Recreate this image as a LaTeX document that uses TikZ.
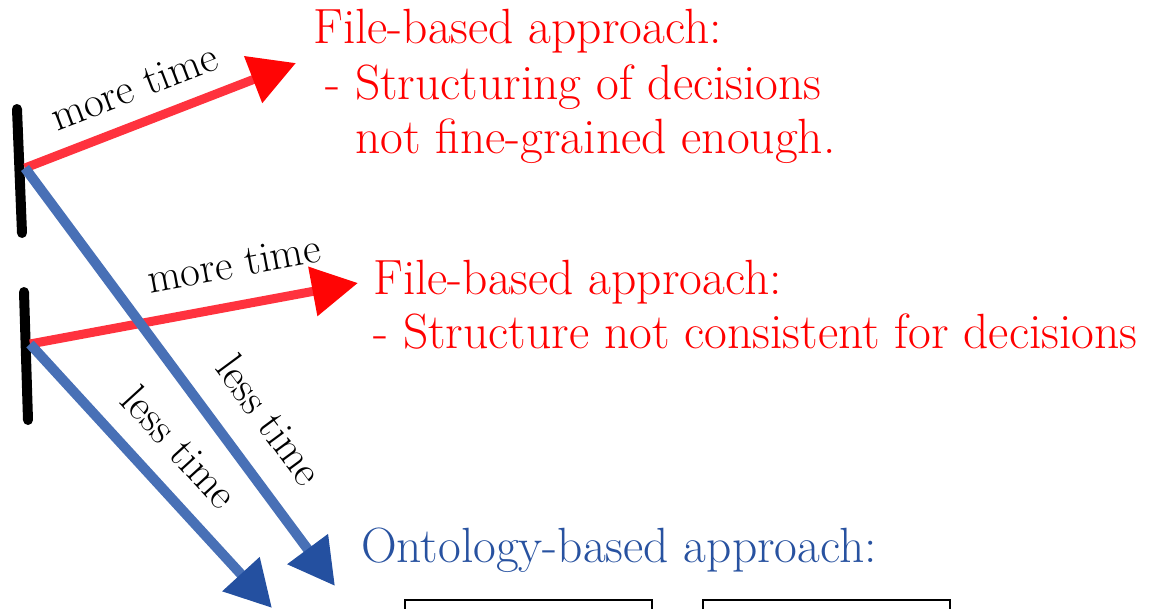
\documentclass[tikz,border=0pt]{standalone}
\usetikzlibrary{arrows.meta}
\definecolor{redA}{RGB}{255,50,62}
\definecolor{redH}{RGB}{255,5,5}
\definecolor{blueA}{RGB}{72,112,182}
\definecolor{blueH}{RGB}{36,80,160}
\definecolor{blueT}{RGB}{40,82,160}
\begin{document}
\begin{tikzpicture}[x=1pt,y=-1pt,
  redtext/.style={text=red, font=\fontsize{49.5}{58}\selectfont, inner sep=0pt, anchor=base west},
  bluetext/.style={text=blueT, font=\fontsize{49.5}{58}\selectfont, inner sep=0pt, anchor=base west},
  lbl/.style={font=\fontsize{43}{45}\selectfont, inner sep=0pt},
  bar/.style={line width=10pt, line cap=round},
  redarrow/.style={draw=redA, line width=9pt, -{Triangle[length=46pt,width=48pt,color=redH]}},
  bluearrow/.style={draw=blueA, line width=10pt, -{Triangle[length=46pt,width=48pt,color=blueH]}},
  box/.style={draw, line width=2.5pt}]
\useasboundingbox (0,0) rectangle (1156,608);
% bars
\draw[bar] (17,109) coordinate (b1t) -- (22,233) coordinate (b1b);
\draw[bar] (24,292) coordinate (b2t) -- (28,420) coordinate (b2b);
\coordinate (s1) at (25,168);
\coordinate (s2) at (30,344);
\coordinate (e1) at (296,63);
\coordinate (e2) at (358,283);
\coordinate (e3) at (335,586);
\coordinate (e4) at (272,608);
% arrows
\draw[redarrow] (s1) -- (e1);
\draw[redarrow] (s2) -- (e2);
\draw[bluearrow] (s1) -- (e3);
\draw[bluearrow] (s2) -- (e4);
% labels
\node[lbl, rotate=21] (m1) at (134,87) {more time};
\node[lbl, rotate=10.5] (m2) at (234,264) {more time};
\node[lbl, rotate=-53.6] (l1) at (270,420) {less time};
\node[lbl, rotate=-47.6] (l2) at (180,447) {less time};
% texts
\node[redtext] (r1a) at (313,43) {File-based approach:};
\node[redtext] (r1b) at (325,99) {- Structuring of decisions};
\node[redtext] (r1c) at (355,153) {not fine-grained enough.};
\node[redtext] (r2a) at (373,294) {File-based approach:};
\node[redtext] (r2b) at (373,348) {- Structure not consistent for decisions};
\node[bluetext] (o1) at (361,562) {Ontology-based approach:};
% boxes
\draw[box] (405,600) rectangle (652,650);
\draw[box] (703,600) rectangle (950,650);
\end{tikzpicture}
\end{document}
